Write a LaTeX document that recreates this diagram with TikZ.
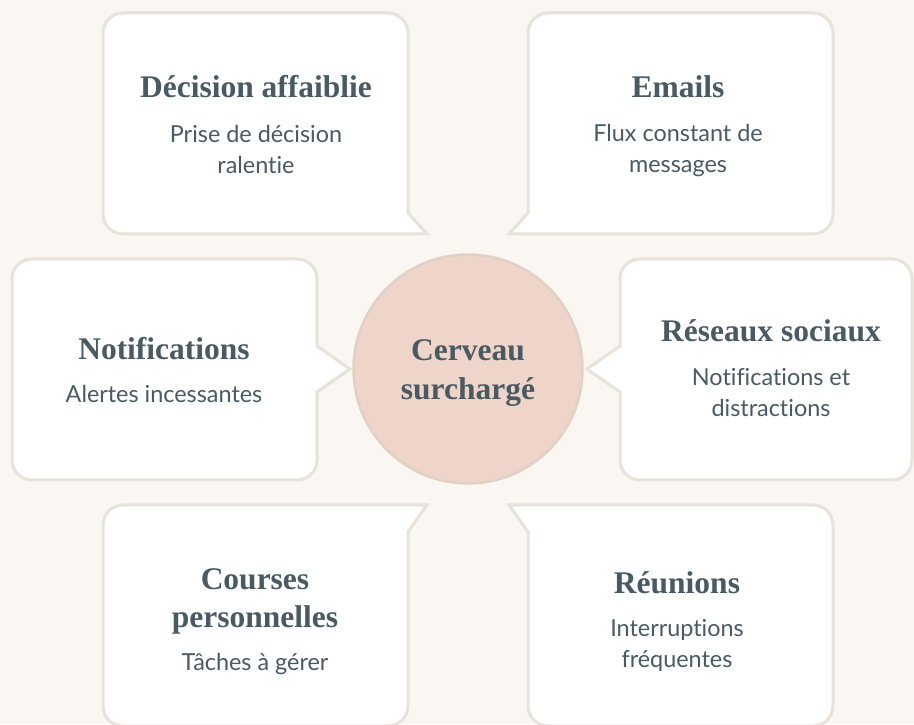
\documentclass[tikz,border=0pt]{standalone}
\usepackage{fontspec}
\setmainfont{Lato}[Ligatures=NoCommon]
\newfontfamily\titlefont{Liberation Serif}
\definecolor{bg}{HTML}{FAF7F2}
\definecolor{boxline}{HTML}{E7E2DA}
\definecolor{ink}{HTML}{4A5A63}
\definecolor{brainfill}{HTML}{EED4C9}
\definecolor{brainline}{HTML}{E0D0C6}
\tikzset{
  bubble/.style={draw=boxline, line width=3pt, fill=white, line join=miter},
  ttl/.style={font=\titlefont\bfseries\fontsize{31.5}{39}\selectfont, text=ink, align=center, anchor=base, inner sep=0pt},
  bdy/.style={font=\fontsize{23.4}{31}\selectfont, text=ink, align=center, anchor=base, inner sep=0pt},
  brain/.style={circle, draw=brainline, line width=2.5pt, fill=brainfill, minimum size=229pt, inner sep=0pt}
}
\begin{document}
\begin{tikzpicture}[x=1pt,y=1pt]
\useasboundingbox (0,0) rectangle (914,724);
\fill[bg] (0,0) rectangle (914,724);
% top-left bubble
\draw[bubble] (427,490) -- (123,490) arc[start angle=270,end angle=180,radius=20pt] -- (103,691) arc[start angle=180,end angle=90,radius=20pt] -- (388,711) arc[start angle=90,end angle=0,radius=20pt] -- (408,511) -- cycle;
% top-right bubble
\draw[bubble] (509,490) -- (528,511) -- (528,691) arc[start angle=180,end angle=90,radius=20pt] -- (813,711) arc[start angle=90,end angle=0,radius=20pt] -- (833,510) arc[start angle=0,end angle=-90,radius=20pt] -- cycle;
% middle-left bubble
\draw[bubble] (350,355) -- (317,378) -- (317,445) arc[start angle=0,end angle=90,radius=20pt] -- (32,465) arc[start angle=90,end angle=180,radius=20pt] -- (12,264) arc[start angle=180,end angle=270,radius=20pt] -- (297,244) arc[start angle=270,end angle=360,radius=20pt] -- (317,332) -- cycle;
% middle-right bubble
\draw[bubble] (587,355) -- (620,332) -- (620,264) arc[start angle=180,end angle=270,radius=20pt] -- (892,244) arc[start angle=270,end angle=360,radius=20pt] -- (912,445) arc[start angle=0,end angle=90,radius=20pt] -- (640,465) arc[start angle=90,end angle=180,radius=20pt] -- (620,378) -- cycle;
% bottom-left bubble
\draw[bubble] (427,219) -- (123,219) arc[start angle=90,end angle=180,radius=20pt] -- (103,18) arc[start angle=180,end angle=270,radius=20pt] -- (388,-2) arc[start angle=270,end angle=360,radius=20pt] -- (408,192) -- cycle;
% bottom-right bubble
\draw[bubble] (509,219) -- (528,192) -- (528,18) arc[start angle=180,end angle=270,radius=20pt] -- (813,-2) arc[start angle=270,end angle=360,radius=20pt] -- (833,199) arc[start angle=0,end angle=90,radius=20pt] -- cycle;
% centre
\node[brain] (brain) at (468,355) {};
\node[ttl] (braintxt) at (468,324) {Cerveau\\surchargé};
% texts (anchor base = last line baseline)
\node[ttl] (t1) at (256,626) {Décision affaiblie};
\node[bdy] (b1) at (256,550) {Prise de décision\\ralentie};
\node[ttl] (t2) at (678,626) {Emails};
\node[bdy] (b2) at (678,551) {Flux constant de\\messages};
\node[ttl] (t3) at (164,364) {Notifications};
\node[bdy] (b3) at (164,321) {Alertes incessantes};
\node[ttl] (t4) at (771,382) {Réseaux sociaux};
\node[bdy] (b4) at (771,307) {Notifications et\\distractions};
\node[ttl] (t5) at (255,96) {Courses\\personnelles};
\node[bdy] (b5) at (255,54) {Tâches à gérer};
\node[ttl] (t6) at (677,131) {Réunions};
\node[bdy] (b6) at (677,57) {Interruptions\\fréquentes};
\end{tikzpicture}
\end{document}
